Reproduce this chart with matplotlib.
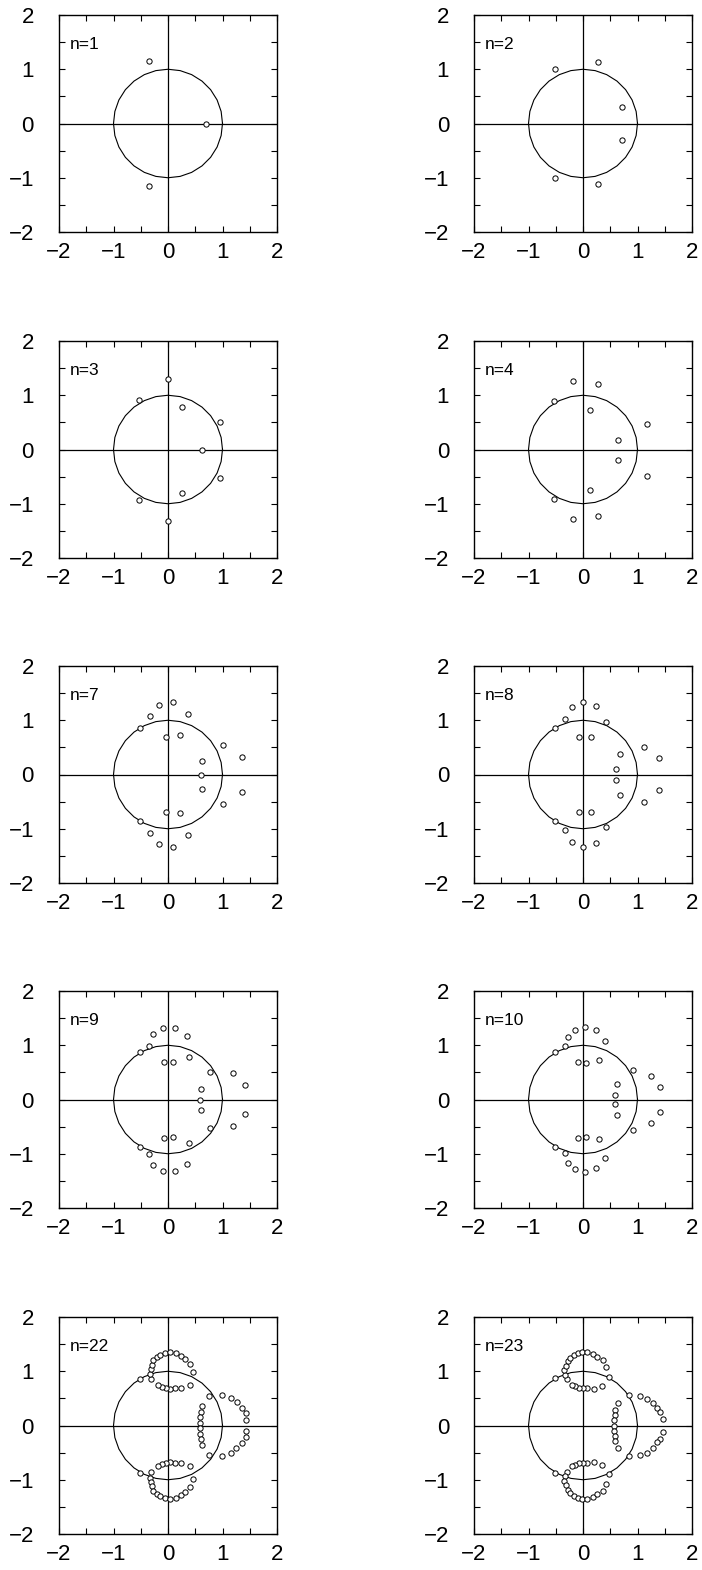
"""Zeros of the polynomials for several n, drawn against the unit circle."""

import numpy as np
import matplotlib

matplotlib.use("Agg")

import matplotlib.pyplot as plt
from matplotlib.ticker import MultipleLocator

plt.rcParams["font.family"] = ["Liberation Sans", "DejaVu Sans"]

n_values = [1, 2, 3, 4, 7, 8, 9, 10, 22, 23]

re_1 = [0.69, -0.35, -0.35]
im_1 = [0.00, 1.16, -1.15]

re_2 = [-0.51, 0.28, 0.72, 0.72, -0.51, 0.28]
im_2 = [1.01, 1.13, 0.31, -0.30, -1.00, -1.12]

re_3 = [0.00, -0.54, 0.25, 0.96, 0.63, 0.96, 0.25, -0.54, 0.00]
im_3 = [1.30, 0.92, 0.79, 0.51, 0.00, -0.52, -0.80, -0.93, -1.31]

re_4 = [-0.18, 0.27, -0.54, 0.13, 1.17, 0.64,
        0.64, 1.17, 0.13, -0.54, -0.18, 0.27]
im_4 = [1.27, 1.21, 0.90, 0.73, 0.47, 0.18,
        -0.19, -0.48, -0.74, -0.91, -1.28, -1.22]

re_7 = [-0.16, 0.10, -0.33, 0.36, -0.52, -0.03, 0.22, 1.00, 1.36, 0.63,
        0.60,
        0.63, 1.36, 1.00, -0.03, 0.22, -0.52, -0.33, 0.36, -0.16, 0.10]
im_7 = [1.28, 1.33, 1.08, 1.12, 0.86, 0.70, 0.72, 0.55, 0.33, 0.25,
        0.00,
        -0.26, -0.33, -0.54, -0.70, -0.71, -0.86, -1.08, -1.12, -1.28, -1.33]

re_8 = [0.00, -0.21, 0.24, -0.33, 0.43, -0.51, -0.07, 0.15, 1.12, 1.39, 0.67, 0.61,
        0.61, 0.67, 1.39, 1.12, -0.07, 0.15, -0.51, -0.33, 0.43, -0.21, 0.24, 0.00]
im_8 = [1.34, 1.25, 1.26, 1.03, 0.97, 0.86, 0.70, 0.70, 0.51, 0.30, 0.38, 0.10,
        -0.10, -0.37, -0.29, -0.50, -0.70, -0.70, -0.86, -1.03, -0.96, -1.24, -1.26, -1.34]

re_9 = [-0.10, 0.13, -0.27, 0.34, -0.34, -0.52, 0.39, -0.08, 0.09, 0.77, 1.19, 1.41, 0.60,
        0.59,
        0.60, 1.41, 1.19, 0.77, -0.08, 0.09, 0.39, -0.52, -0.34, -0.27, 0.34, -0.10, 0.13]
im_9 = [1.32, 1.32, 1.20, 1.17, 0.99, 0.87, 0.79, 0.70, 0.69, 0.51, 0.48, 0.26, 0.20,
        0.00,
        -0.20, -0.27, -0.48, -0.52, -0.71, -0.70, -0.80, -0.88, -1.01, -1.21, -1.18, -1.32, -1.32]

re_10 = [0.03, -0.15, 0.23, -0.28, 0.40, -0.33, -0.51, -0.09, 0.06, 0.29,
         0.91, 1.24, 1.41, 0.62, 0.59,
         0.59, 0.62, 1.41, 1.24, 0.91, -0.09, 0.06, 0.29, -0.51, -0.33,
         0.40, -0.28, -0.15, 0.23, 0.03]
im_10 = [1.33, 1.29, 1.28, 1.16, 1.08, 0.98, 0.87, 0.70, 0.68, 0.72,
         0.55, 0.44, 0.23, 0.28, 0.08,
         -0.09, -0.28, -0.23, -0.44, -0.56, -0.71, -0.69, -0.72, -0.88, -0.98,
         -1.08, -1.17, -1.29, -1.27, -1.33]

re_22 = [-0.52, -0.31, -0.33, -0.32, -0.30, -0.27, -0.21, -0.14, -0.05, 0.04, 0.14,
         0.23, 0.31, 0.40, 0.46, 0.40, 0.24, 0.12, 0.04, -0.04, -0.11, -0.19,
         0.76, 0.99, 1.15, 1.26, 1.36, 1.43, 1.44, 0.62, 0.60, 0.59, 0.58,
         0.58, 0.59, 0.60, 0.62, 1.44, 1.43, 1.35, 1.25, 1.15, 0.99, 0.76,
         -0.52, -0.31, -0.33, -0.32, -0.30, -0.27, -0.21, -0.14, -0.05, 0.04, 0.14,
         0.23, 0.31, 0.40, 0.46, 0.40, 0.24, 0.12, 0.04, -0.04, -0.11, -0.19]
im_22 = [0.86, 0.86, 0.95, 1.04, 1.12, 1.20, 1.26, 1.30, 1.34, 1.35, 1.33,
         1.29, 1.23, 1.13, 0.99, 0.75, 0.69, 0.69, 0.68, 0.69, 0.71, 0.75,
         0.55, 0.56, 0.51, 0.43, 0.33, 0.23, 0.11, 0.36, 0.25, 0.15, 0.05,
         -0.05, -0.15, -0.25, -0.36, -0.10, -0.22, -0.33, -0.41, -0.51, -0.56, -0.55,
         -0.88, -0.86, -0.96, -1.04, -1.12, -1.20, -1.26, -1.30, -1.34, -1.35, -1.33,
         -1.29, -1.23, -1.13, -0.99, -0.75, -0.69, -0.69, -0.68, -0.69, -0.71, -0.75]

re_23 = [-0.51, -0.30, -0.33, -0.34, -0.32, -0.28, -0.23, -0.16, -0.10, -0.01, 0.08,
         0.19, 0.25, 0.36, 0.43, 0.47, 0.34, 0.20, 0.08, 0.00, -0.07, -0.14, -0.20,
         0.84, 1.04, 1.18, 1.29, 1.36, 1.42, 1.47, 0.64, 0.59, 0.58, 0.57,
         0.57,
         0.57, 0.58, 0.59, 0.64, 1.47, 1.42, 1.36, 1.29, 1.18, 1.04, 0.84,
         -0.51, -0.30, -0.33, -0.34, -0.32, -0.28, -0.23, -0.16, -0.10, -0.01, 0.08,
         0.19, 0.25, 0.36, 0.43, 0.47, 0.34, 0.20, 0.08, 0.00, -0.07, -0.14, -0.20]
im_23 = [0.87, 0.85, 0.94, 1.02, 1.10, 1.18, 1.25, 1.30, 1.33, 1.35, 1.35,
         1.31, 1.26, 1.20, 1.08, 0.90, 0.72, 0.68, 0.69, 0.69, 0.69, 0.72, 0.75,
         0.57, 0.55, 0.49, 0.42, 0.32, 0.25, 0.12, 0.42, 0.28, 0.19, 0.10,
         0.00,
         -0.10, -0.19, -0.28, -0.42, -0.12, -0.25, -0.31, -0.42, -0.50, -0.54, -0.57,
         -0.88, -0.85, -0.94, -1.02, -1.10, -1.18, -1.25, -1.30, -1.33, -1.35, -1.35,
         -1.31, -1.26, -1.20, -1.08, -0.90, -0.72, -0.68, -0.69, -0.69, -0.69, -0.72, -0.75]

zeros = {
    1: (re_1, im_1), 2: (re_2, im_2), 3: (re_3, im_3), 4: (re_4, im_4),
    7: (re_7, im_7), 8: (re_8, im_8), 9: (re_9, im_9), 10: (re_10, im_10),
    22: (re_22, im_22), 23: (re_23, im_23),
}

W, H = 702, 1570
fig = plt.figure(figsize=(W / 100, H / 100), dpi=100)

col_left = [59, 474]
row_top = [15, 341, 666, 991, 1317]
box_w, box_h = 218, 217

# faceted unit circle, like the original plotter output
theta = np.linspace(0, 2 * np.pi, 29)

for i, n in enumerate(n_values):
    row, col = divmod(i, 2)
    left = col_left[col] / W
    bottom = 1 - (row_top[row] + box_h) / H
    ax = fig.add_axes([left, bottom, box_w / W, box_h / H])

    ax.axhline(0, color="black", lw=0.9)
    ax.axvline(0, color="black", lw=0.9)
    ax.plot(np.cos(theta), np.sin(theta), color="black", lw=0.8)

    re, im = zeros[n]
    ax.plot(re, im, linestyle="none", marker="o", markersize=3.8,
            markerfacecolor="white", markeredgecolor="black", markeredgewidth=0.7)

    ax.text(0.05, 0.843, f"n={n}", transform=ax.transAxes, fontsize=12.5,
            ha="left", va="baseline")

    ax.set_xlim(-2, 2)
    ax.set_ylim(-2, 2)
    ax.xaxis.set_major_locator(MultipleLocator(1))
    ax.yaxis.set_major_locator(MultipleLocator(1))
    ax.xaxis.set_minor_locator(MultipleLocator(0.5))
    ax.yaxis.set_minor_locator(MultipleLocator(0.5))
    ax.tick_params(which="both", direction="in", top=True, right=True,
                   length=4, width=0.8)
    ax.tick_params(axis="x", which="major", labelsize=16, pad=7)
    ax.tick_params(axis="y", which="major", labelsize=16, pad=18)
    for spine in ax.spines.values():
        spine.set_linewidth(1.0)

fig.savefig("out.png", dpi=100)
plt.close(fig)
